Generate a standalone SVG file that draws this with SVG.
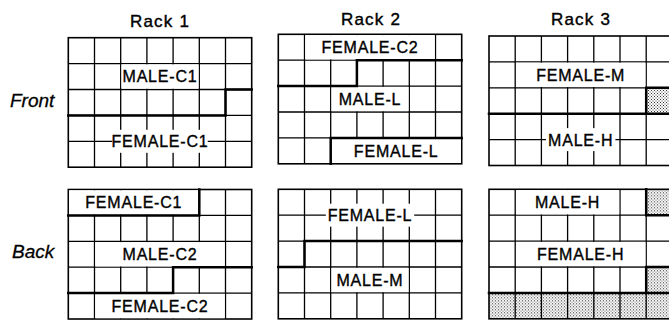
<svg xmlns="http://www.w3.org/2000/svg" xmlns:xlink="http://www.w3.org/1999/xlink" width="669" height="320" viewBox="0 0 669 320">
<style>
.grid{fill:none;stroke:#000;stroke-width:1.3}
.border{fill:none;stroke:#000;stroke-width:1.6}
.thick{fill:none;stroke:#000;stroke-width:2.5;stroke-linecap:square}
.blank{fill:#fff}
.dots{fill:url(#dots)}
.lbl{font-family:"Liberation Sans",Arial,sans-serif;font-size:16px;letter-spacing:0.8px;text-anchor:middle;fill:#000;stroke:#000;stroke-width:0.35}
.title{font-family:"Liberation Sans",Arial,sans-serif;font-size:17px;letter-spacing:1.2px;text-anchor:middle;fill:#000;stroke:#000;stroke-width:0.4}
.side{font-family:"Liberation Sans",Arial,sans-serif;font-size:19px;font-style:italic;fill:#000;stroke:#000;stroke-width:0.3}
</style>
<defs>
<pattern id="dots" width="3" height="3" patternUnits="userSpaceOnUse">
<rect width="3" height="3" fill="#fff"/>
<rect width="1" height="1" fill="#333"/>
<rect x="1.5" y="1.5" width="1" height="1" fill="#333"/>
</pattern>
<g id="grid">
<path class="grid" d="M26.2 0V129.5M52.4 0V129.5M78.6 0V129.5M104.8 0V129.5M131 0V129.5M157.2 0V129.5M0 25.9H183.4M0 51.8H183.4M0 77.7H183.4M0 103.6H183.4"/>
<rect class="border" x="0" y="0" width="183.4" height="129.5"/>
</g>
</defs>
<rect width="669" height="320" fill="#fff"/>

<g id="titles">
<text class="title" x="160" y="27">Rack 1</text>
<text class="title" x="371" y="25">Rack 2</text>
<text class="title" x="581" y="25">Rack 3</text>
<text class="side" x="10" y="107">Front</text>
<text class="side" x="12" y="258">Back</text>
</g>

<g id="rack1-front" transform="translate(68.3,37.7)">
<use xlink:href="#grid"/>
<rect class="blank" x="53.2" y="26.7" width="77" height="24.3"/>
<rect class="blank" x="44" y="92.1" width="95.4" height="23"/>
<path class="thick" d="M0 77.7H157.2V51.8H183.4"/>
<text class="lbl" x="91.7" y="44.8">MALE-C1</text>
<text class="lbl" x="91.7" y="109.6">FEMALE-C1</text>
</g>

<g id="rack2-front" transform="translate(278.3,34.3)">
<use xlink:href="#grid"/>
<rect class="blank" x="27" y="0.8" width="129.4" height="24.3"/>
<rect class="blank" x="53.2" y="52.6" width="77" height="24.3"/>
<rect class="blank" x="53.2" y="104.4" width="129.4" height="24.3"/>
<path class="thick" d="M0 51.8H78.6V25.9H183.4"/>
<path class="thick" d="M52.4 129.5V103.6H183.4"/>
<text class="lbl" x="91.7" y="18.9">FEMALE-C2</text>
<text class="lbl" x="91.7" y="70.7">MALE-L</text>
<text class="lbl" x="117.9" y="122.5">FEMALE-L</text>
</g>

<g id="rack3-front" transform="translate(489,36)">
<rect class="dots" x="157.2" y="51.8" width="26.2" height="25.9"/>
<use xlink:href="#grid"/>
<rect class="blank" x="27" y="26.7" width="129.4" height="24.3"/>
<rect class="blank" x="57" y="92.1" width="69.4" height="23"/>
<path class="thick" d="M0 77.7H183.4M157.2 77.7V51.8H183.4"/>
<text class="lbl" x="91.7" y="44.8">FEMALE-M</text>
<text class="lbl" x="91.7" y="109.6">MALE-H</text>
</g>

<g id="rack1-back" transform="translate(68.3,189.5)">
<use xlink:href="#grid"/>
<rect class="blank" x="0.8" y="0.8" width="129.4" height="24.3"/>
<rect class="blank" x="27" y="52.6" width="129.4" height="24.3"/>
<rect class="blank" x="27" y="104.4" width="129.4" height="24.3"/>
<path class="thick" d="M0 25.9H131V0"/>
<path class="thick" d="M0 103.6H104.8V77.7H183.4"/>
<text class="lbl" x="65.5" y="18.9">FEMALE-C1</text>
<text class="lbl" x="91.7" y="70.7">MALE-C2</text>
<text class="lbl" x="91.7" y="122.5">FEMALE-C2</text>
</g>

<g id="rack2-back" transform="translate(278.3,189.3)">
<use xlink:href="#grid"/>
<rect class="blank" x="47.5" y="14.4" width="88.4" height="23"/>
<rect class="blank" x="53.2" y="78.5" width="77" height="24.3"/>
<path class="thick" d="M26.2 51.8H183.4M0 77.7H26.2V51.8"/>
<text class="lbl" x="91.7" y="31.9">FEMALE-L</text>
<text class="lbl" x="91.7" y="96.6">MALE-M</text>
</g>

<g id="rack3-back" transform="translate(489,189.3)">
<rect class="dots" x="157.2" y="0" width="26.2" height="25.9"/>
<rect class="dots" x="157.2" y="77.7" width="26.2" height="25.9"/>
<rect class="dots" x="0" y="103.6" width="183.4" height="25.9"/>
<use xlink:href="#grid"/>
<rect class="blank" x="27" y="0.8" width="103.2" height="24.3"/>
<rect class="blank" x="27" y="52.6" width="129.4" height="24.3"/>
<path class="thick" d="M157.2 0V25.9H183.4M157.2 103.6V77.7H183.4M0 103.6H183.4"/>
<text class="lbl" x="78.6" y="18.9">MALE-H</text>
<text class="lbl" x="91.7" y="70.7">FEMALE-H</text>
</g>

<g id="connectors"/>
</svg>
